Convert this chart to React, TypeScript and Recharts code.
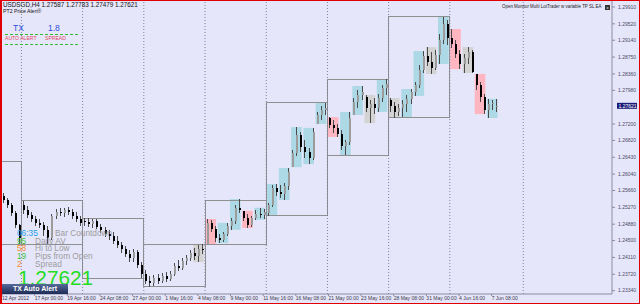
import React from 'react';
import { ComposedChart, Bar, XAxis, YAxis, ReferenceArea, ReferenceLine } from 'recharts';

// 8-hour candles (two H4 bars each)
const opens = [
  1.2553, 1.2544, 1.2532, 1.2514, 1.2486, 1.2532, 1.2521, 1.2509, 1.25, 1.2491,
  1.2486, 1.2475, 1.2456, 1.2507, 1.2516, 1.2514, 1.2521, 1.2516, 1.2507, 1.25,
  1.2495, 1.2493, 1.2488, 1.2495, 1.2482, 1.2475, 1.2465, 1.2461, 1.2449, 1.244,
  1.2431, 1.2419, 1.241, 1.2424, 1.2393, 1.2373, 1.2356, 1.2352, 1.2363, 1.2356,
  1.2368, 1.2361, 1.2373, 1.2391, 1.2387, 1.2403, 1.241, 1.2421, 1.2414, 1.2431,
  1.2442, 1.2491, 1.2477, 1.2456, 1.2451, 1.2465, 1.2484, 1.2495, 1.2526, 1.2519,
  1.2502, 1.2486, 1.2502, 1.2512, 1.2509, 1.2514, 1.2532, 1.2572, 1.2563, 1.2558,
  1.2576, 1.262, 1.2653, 1.2695, 1.2667, 1.2655, 1.2641, 1.272, 1.2741, 1.2752,
  1.2734, 1.2718, 1.2711, 1.2697, 1.2669, 1.2678, 1.2741, 1.2771, 1.2787, 1.2783,
  1.2757, 1.2766, 1.2757, 1.278, 1.2803, 1.2776, 1.2762, 1.2748, 1.2757, 1.2766,
  1.2778, 1.2794, 1.281, 1.2845, 1.2877, 1.2864, 1.285, 1.288, 1.2915, 1.2952,
  1.2919, 1.2905, 1.2882, 1.2859, 1.2873, 1.2887, 1.2836, 1.281, 1.2783, 1.2752,
  1.2766, 1.27587,
];
const highs = [
  1.256, 1.2549, 1.2537, 1.2519, 1.2488, 1.2542, 1.253, 1.2516, 1.2507, 1.25,
  1.2493, 1.2484, 1.2512, 1.2523, 1.2526, 1.2526, 1.2528, 1.2523, 1.2516, 1.2507,
  1.2502, 1.2502, 1.25, 1.25, 1.2488, 1.2482, 1.2475, 1.247, 1.2461, 1.2447,
  1.2437, 1.2428, 1.2431, 1.2428, 1.24, 1.2382, 1.2368, 1.237, 1.2373, 1.2375,
  1.2377, 1.238, 1.2398, 1.2405, 1.241, 1.2417, 1.2428, 1.2433, 1.244, 1.2442,
  1.25, 1.2498, 1.2484, 1.2465, 1.247, 1.2491, 1.2502, 1.2532, 1.2546, 1.2519,
  1.2512, 1.2507, 1.2521, 1.2526, 1.2523, 1.2537, 1.2579, 1.2581, 1.2579, 1.2583,
  1.2618, 1.266, 1.2713, 1.2702, 1.2683, 1.2664, 1.2711, 1.2748, 1.2762, 1.2769,
  1.2736, 1.2729, 1.272, 1.2706, 1.2683, 1.2748, 1.278, 1.2799, 1.2808, 1.2787,
  1.2776, 1.278, 1.279, 1.281, 1.2824, 1.278, 1.2771, 1.2766, 1.2776, 1.2787,
  1.2801, 1.2817, 1.2857, 1.2889, 1.2898, 1.2887, 1.2891, 1.2928, 1.2968, 1.2961,
  1.294, 1.2915, 1.2891, 1.2882, 1.2898, 1.2891, 1.2836, 1.2817, 1.279, 1.2778,
  1.2776, 1.27783,
];
const lows = [
  1.2537, 1.2526, 1.2507, 1.2479, 1.2442, 1.2512, 1.2502, 1.2493, 1.2484, 1.2479,
  1.2461, 1.2442, 1.2451, 1.25, 1.2507, 1.2505, 1.2509, 1.25, 1.2493, 1.2484,
  1.2484, 1.2482, 1.2479, 1.2477, 1.2468, 1.2458, 1.2451, 1.2442, 1.2433, 1.2421,
  1.2412, 1.24, 1.24, 1.2387, 1.2363, 1.235, 1.2343, 1.2345, 1.235, 1.2352,
  1.2354, 1.2356, 1.2368, 1.238, 1.2382, 1.2393, 1.2403, 1.2405, 1.24, 1.2419,
  1.2442, 1.247, 1.2447, 1.2444, 1.2447, 1.2461, 1.2475, 1.2488, 1.2514, 1.2495,
  1.2479, 1.2482, 1.2498, 1.2502, 1.25, 1.2507, 1.2528, 1.2553, 1.2549, 1.2544,
  1.2567, 1.262, 1.2646, 1.2655, 1.2641, 1.2627, 1.2637, 1.272, 1.2729, 1.2741,
  1.2711, 1.2699, 1.269, 1.266, 1.2648, 1.2671, 1.2741, 1.2757, 1.2776, 1.2748,
  1.2722, 1.2743, 1.2748, 1.2771, 1.2787, 1.2748, 1.2734, 1.2739, 1.2736, 1.2748,
  1.2766, 1.2785, 1.2803, 1.2838, 1.2854, 1.2836, 1.2845, 1.2859, 1.2905, 1.2903,
  1.2896, 1.2873, 1.2847, 1.2838, 1.2859, 1.2838, 1.2799, 1.2771, 1.2743, 1.2734,
  1.2752, 1.27479,
];
const closes = [
  1.2544, 1.2532, 1.2514, 1.2486, 1.2456, 1.2521, 1.2509, 1.25, 1.2491, 1.2486,
  1.2475, 1.2456, 1.2507, 1.2516, 1.2514, 1.2521, 1.2516, 1.2507, 1.25, 1.2491,
  1.2493, 1.2488, 1.2495, 1.2482, 1.2475, 1.2465, 1.2461, 1.2449, 1.244, 1.2431,
  1.2419, 1.241, 1.2424, 1.2393, 1.2373, 1.2356, 1.2352, 1.2363, 1.2356, 1.2368,
  1.2361, 1.2373, 1.2391, 1.2387, 1.2403, 1.241, 1.2421, 1.2414, 1.2431, 1.2428,
  1.2491, 1.2477, 1.2456, 1.2451, 1.2465, 1.2484, 1.2495, 1.2526, 1.2521, 1.2502,
  1.2486, 1.2502, 1.2512, 1.2509, 1.2516, 1.2532, 1.2572, 1.2563, 1.2558, 1.2576,
  1.2609, 1.2653, 1.2695, 1.2667, 1.2655, 1.2641, 1.2702, 1.2741, 1.2752, 1.2757,
  1.2718, 1.2711, 1.2697, 1.2669, 1.2678, 1.2734, 1.2771, 1.2787, 1.2794, 1.2757,
  1.2766, 1.2757, 1.278, 1.2803, 1.2813, 1.2762, 1.2748, 1.2757, 1.2766, 1.2778,
  1.2794, 1.281, 1.2845, 1.2877, 1.2864, 1.285, 1.288, 1.2915, 1.2952, 1.2919,
  1.2905, 1.2882, 1.2859, 1.2873, 1.2887, 1.284, 1.281, 1.2783, 1.2752, 1.2766,
  1.2769, 1.27621,
];

// weekly range boxes (candle index span, high, low)
const weekStarts = [-0.5, 4.75, 19.75, 34.75, 49.75, 64.75, 79.75, 94.75];
const weekEnds = [4.75, 19.75, 34.75, 49.75, 64.75, 79.75, 94.75, 109.75];
const weekHighs = [1.2634, 1.2542, 1.2502, 1.2442, 1.2544, 1.2769, 1.2824, 1.297];
const weekLows = [1.2442, 1.2442, 1.2363, 1.2343, 1.2442, 1.2507, 1.2648, 1.2734];

const separators = [4.75, 19.75, 34.75, 49.75, 64.75, 79.75, 94.75, 109.75, 127.75];

// daily session highlights: first candle of the day and its colour
const dayStarts = [47, 50, 53, 56, 59, 62, 65, 68, 71, 74, 77, 80, 83, 86, 89, 92, 95, 98, 101, 104, 107, 110, 113, 116, 119];
const dayKinds = [
  'gray', 'pink', 'blue', 'blue', 'pink', 'blue', 'blue', 'blue', 'blue', 'blue', 'blue', 'pink', 'blue',
  'blue', 'gray', 'blue', 'gray', 'blue', 'blue', 'gray', 'blue', 'pink', 'gray', 'pink', 'blue',
];

const dateTicks = [0, 8, 16, 24, 32, 40, 48, 56, 64, 72, 80, 88, 96, 104, 112, 120];
const dateLabels = [
  '12 Apr 2012', '17 Apr 00:00', '19 Apr 16:00', '24 Apr 08:00', '27 Apr 00:00', '1 May 16:00',
  '4 May 08:00', '9 May 00:00', '11 May 16:00', '16 May 08:00', '21 May 00:00', '23 May 16:00',
  '28 May 08:00', '31 May 00:00', '4 Jun 16:00', '7 Jun 08:00',
];
const priceTicks = [
  1.2991, 1.2952, 1.2914, 1.2875, 1.2836, 1.2798, 1.272, 1.2682, 1.2643,
  1.2604, 1.2566, 1.2527, 1.2488, 1.245, 1.2411, 1.2372, 1.2334,
];

const shadeColors: Record<string, string> = { blue: '#ADD8E6', pink: '#FFB6C1', gray: '#D3D3D3' };

const candles = closes.map((c, i) => ({
  i,
  open: opens[i],
  high: highs[i],
  low: lows[i],
  close: c,
  range: [lows[i], highs[i]],
}));

const lastClose = closes[closes.length - 1];

const Candle = (props: any) => {
  const { x, y, width, height, payload } = props;
  const top = height >= 0 ? y : y + height;
  const h = Math.abs(height);
  const span = payload.high - payload.low;
  const ppu = span > 0 ? h / span : 0;
  const yOf = (v: number) => top + (payload.high - v) * ppu;
  const bTop = yOf(Math.max(payload.open, payload.close));
  const bBot = yOf(Math.min(payload.open, payload.close));
  const cx = Math.round(x + width / 2);
  const up = payload.close >= payload.open;
  return (
    <g shapeRendering="crispEdges">
      <line x1={cx + 0.5} x2={cx + 0.5} y1={top} y2={top + Math.max(h, 1)} stroke="#4a4a4a" strokeWidth={1} />
      <rect x={cx} y={bTop} width={2} height={Math.max(1, bBot - bTop)} fill={up ? '#9c9c9c' : '#000'} />
    </g>
  );
};

const PriceTick = (props: any) => {
  const { x, y, payload } = props;
  return (
    <text x={x} y={y} dy={1.8} fontSize={5} fill="#4a4a62" textAnchor="start" fontFamily="Liberation Sans, Arial">
      {payload.value.toFixed(5)}
    </text>
  );
};

const DateTick = (props: any) => {
  const { x, y, payload } = props;
  const k = dateTicks.indexOf(payload.value);
  return (
    <text x={x} y={y} dy={3.4} fontSize={5} fill="#3a3a4a" textAnchor="start" fontFamily="Liberation Sans, Arial">
      {k >= 0 ? dateLabels[k] : ''}
    </text>
  );
};

const PriceTag = (props: any) => {
  const { viewBox } = props;
  const x = viewBox.x + viewBox.width + 5;
  const y = viewBox.y;
  return (
    <g>
      <rect x={x} y={y - 3} width={20} height={6} fill="#1c1c78" />
      <text x={x + 1.5} y={y + 1.8} fontSize={5} fill="#fff" fontFamily="Liberation Sans, Arial">
        {lastClose.toFixed(5)}
      </text>
    </g>
  );
};

const Txt = ({ x, y, size, color, bold, children }: any) => (
  <div
    style={{
      position: 'absolute',
      left: x,
      top: y - size * 0.38,
      fontSize: size,
      lineHeight: `${size * 0.76}px`,
      color,
      fontWeight: bold ? 'bold' : 'normal',
      whiteSpace: 'nowrap',
    }}
  >
    {children}
  </div>
);

export default function App() {
  return (
    <div
      style={{
        position: 'absolute',
        left: 0,
        top: 0,
        width: 640,
        height: 304,
        background: '#E6E6FA',
        overflow: 'hidden',
        fontFamily: '"Liberation Sans", Arial, sans-serif',
      }}
    >
      <ComposedChart width={640} height={304} data={candles} margin={{ top: 0, right: 0, bottom: 0, left: 0 }}>
        <XAxis
          dataKey="i"
          type="number"
          domain={[-0.5, 149.5]}
          ticks={dateTicks}
          interval={0}
          height={10}
          tick={<DateTick />}
          tickSize={2}
          tickMargin={1}
          stroke="#8c8ca0"
          allowDataOverflow
        />
        <YAxis
          orientation="right"
          type="number"
          domain={[1.23263, 1.30072]}
          ticks={priceTicks}
          interval={0}
          width={28}
          tick={<PriceTick />}
          tickSize={3}
          tickMargin={3}
          stroke="#8c8ca0"
          allowDataOverflow
        />

        {dayStarts.map((s, k) => {
          const idx = [s, s + 1, s + 2].filter((j) => j < candles.length);
          return (
            <ReferenceArea
              key={`d${k}`}
              x1={s - 0.15}
              x2={s + 2.45}
              y1={Math.min(...idx.map((j) => lows[j]))}
              y2={Math.max(...idx.map((j) => highs[j]))}
              fill={shadeColors[dayKinds[k]]}
              fillOpacity={1}
              stroke="none"
            />
          );
        })}

        {separators.map((s) => (
          <ReferenceLine key={`s${s}`} x={s} stroke="#8080a0" strokeDasharray="1 2" />
        ))}

        {weekStarts.map((s, k) => (
          <ReferenceArea
            key={`w${k}`}
            x1={s}
            x2={weekEnds[k]}
            y1={weekLows[k]}
            y2={weekHighs[k]}
            fill="none"
            stroke="#8f8f8f"
            strokeWidth={1}
            shapeRendering="crispEdges"
          />
        ))}

        <Bar dataKey="range" barSize={3} shape={<Candle />} isAnimationActive={false} />

        <ReferenceLine y={lastClose} stroke="none" label={<PriceTag />} />
      </ComposedChart>

      {/* chart header */}
      <Txt x={3} y={5} size={6.3} color="#111">USDSGD,H4 1.27587 1.27783 1.27479 1.27621</Txt>
      <Txt x={3} y={11.5} size={5.2} color="#111">PT2 Price Alert®</Txt>

      {/* TX panel */}
      <Txt x={13} y={28.5} size={8.5} color="#2E4FE0">TX</Txt>
      <Txt x={48} y={28.5} size={8.5} color="#2E4FE0">1.8</Txt>
      <div style={{ position: 'absolute', left: 5, top: 34, width: 73, borderTop: '1px dashed #33bb33' }} />
      <Txt x={5} y={39} size={5.1} color="#E2485E">AUTO ALERT</Txt>
      <Txt x={45} y={39} size={5.1} color="#E2485E">SPREAD</Txt>
      <div style={{ position: 'absolute', left: 5, top: 44, width: 73, borderTop: '1px dashed #33bb33' }} />

      {/* expert comment */}
      <Txt x={502} y={7} size={4.45} color="#222">Open Monitor Multi LotTrader w variable TP SL EA</Txt>
      <div style={{ position: 'absolute', left: 605, top: 5, width: 5, height: 5, background: '#333', color: '#fff', fontSize: 4, lineHeight: '5px', textAlign: 'center' }}>x</div>

      {/* info block */}
      <Txt x={17} y={233} size={8.3} color="#1E9FE6">06:35</Txt>
      <Txt x={55} y={233} size={8.3} color="#9C9C9C">Bar Countdown</Txt>
      <Txt x={17} y={241} size={8.3} color="#3DC43D">95</Txt>
      <Txt x={35} y={241} size={8.3} color="#9C9C9C">Daily AV</Txt>
      <Txt x={17} y={248.5} size={8.3} color="#F58A2A">58</Txt>
      <Txt x={35} y={248.5} size={8.3} color="#9C9C9C">Hi to Low</Txt>
      <Txt x={17} y={256} size={8.3} color="#3DC43D">19</Txt>
      <Txt x={35} y={256} size={8.3} color="#9C9C9C">Pips from Open</Txt>
      <Txt x={17} y={264} size={8.3} color="#F58A2A">2</Txt>
      <Txt x={35} y={264} size={8.3} color="#9C9C9C">Spread</Txt>
      <Txt x={18} y={278} size={20.8} color="#22DD22">1.27621</Txt>

      <div
        style={{
          position: 'absolute',
          left: 2,
          top: 284,
          width: 66,
          height: 10,
          background: 'linear-gradient(#56699a, #1d2c55)',
          color: '#fff',
          fontSize: 7,
          fontWeight: 'bold',
          lineHeight: '10px',
          textAlign: 'center',
        }}
      >
        TX Auto Alert
      </div>

      <div style={{ position: 'absolute', left: 0, top: 0, width: 640, height: 304, boxSizing: 'border-box', border: '1px solid #e00000', borderLeftWidth: 2, pointerEvents: 'none' }} />
    </div>
  );
}
